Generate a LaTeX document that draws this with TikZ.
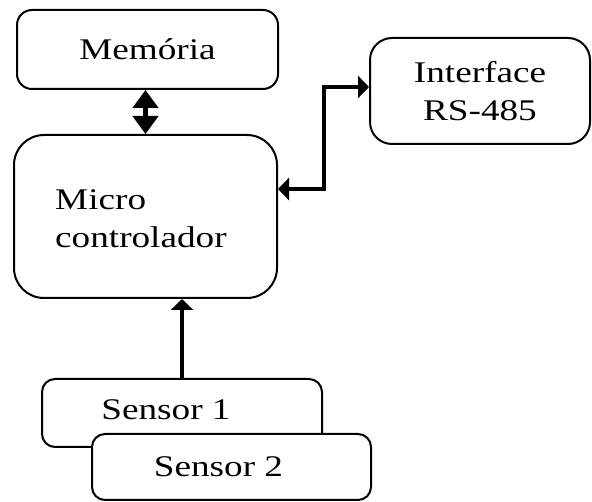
\documentclass[tikz,border=0pt]{standalone}
\usepackage{fontspec}
\setmainfont{Liberation Serif}[FakeStretch=1.24]
\usetikzlibrary{arrows.meta,positioning}

\begin{document}
\begin{tikzpicture}[x=1pt, y=-1pt, font=\fontsize{30}{38}\selectfont,
    block/.style={draw=black, line width=2pt, fill=white, align=left, inner sep=0pt},
    link/.style={line width=3.2pt,
        {Triangle[width=22pt,length=11pt]}-{Triangle[width=22pt,length=11pt]}},
    bus/.style={line width=4.5pt,
        {Triangle[width=25pt,length=18pt]}-{Triangle[width=25pt,length=18pt]}}]

\useasboundingbox (0,0) rectangle (592,502);

\node[block, rounded corners=15pt, minimum width=261pt, minimum height=79pt](mem) at (147.5,49.5){Memória};
\node[block, rounded corners=30pt, minimum width=263pt, minimum height=163pt](mcu) at (145.5,216.5){};
\node[align=left, anchor=west, inner sep=0pt] (mcutext) at (55,219){Micro\\controlador};
\node[block, rounded corners=22pt, minimum width=220pt, minimum height=106pt, align=center](iface) at (480,91){Interface\\RS-485};
\node[block, rounded corners=13pt, minimum width=280pt, minimum height=68pt,
      label={[xshift=-16pt, yshift=3pt]center:Sensor 1}](s1) at (182,413){};
\node[block, rounded corners=13pt, minimum width=279pt, minimum height=66pt,
      label={[xshift=-13pt]center:Sensor 2}](s2) at (231.5,467){};

\draw[bus] ([xshift=-2pt]mem.south) -- ([xshift=-2pt]mem.south |- mcu.north);
\draw[link] ([yshift=27.5pt]mcu.east) -- ++(46,0) |- ([yshift=4pt]iface.west);
\draw[line width=3.2pt, -{Triangle[width=22pt,length=11pt]}] (s1.north) -- (s1.north |- mcu.south);

\end{tikzpicture}
\end{document}
